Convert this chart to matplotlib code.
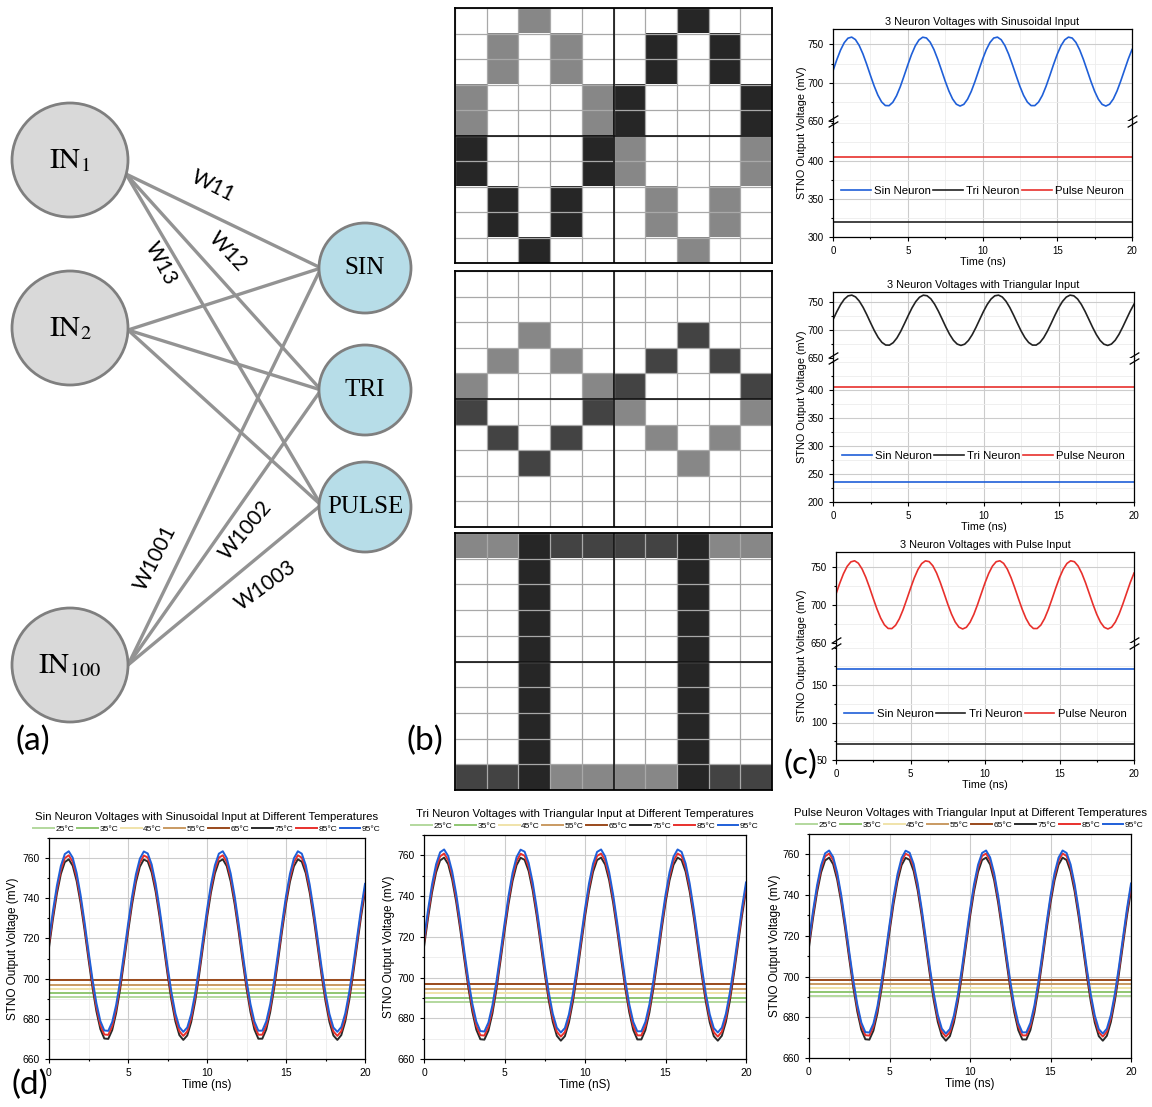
import numpy as np
import matplotlib.pyplot as plt
from matplotlib.colors import ListedColormap
from matplotlib.patches import Ellipse
from matplotlib.ticker import MultipleLocator

plt.rcParams['font.family'] = ['Liberation Sans', 'DejaVu Sans']
plt.rcParams['mathtext.fontset'] = 'stix'

W, H = 1152, 1107

# ---------------- data ----------------
t_ns = np.arange(0, 20.001, 0.25)

# oscillating neuron output (mV), sampled every 0.25 ns
wave_mv = [715.5, 729.7, 742.3, 752.1, 758.0, 759.4, 756.2, 748.6, 737.6, 724.2,
           709.7, 695.8, 683.8, 674.9, 670.2, 670.0, 674.4, 682.9, 694.7, 708.6,
           723.0, 736.6, 747.9, 755.7, 759.3, 758.3, 752.8, 743.3, 730.8, 716.7,
           702.3, 689.2, 678.7, 671.9, 669.5, 671.7, 678.4, 688.7, 701.7, 716.1,
           730.3, 742.8, 752.4, 758.2, 759.4, 756.0, 748.3, 737.1, 723.6, 709.2,
           695.3, 683.4, 674.7, 670.1, 670.1, 674.7, 683.3, 695.2, 709.1, 723.6,
           737.1, 748.2, 755.9, 759.4, 758.2, 752.5, 742.8, 730.3, 716.1, 701.8,
           688.8, 678.4, 671.7, 669.5, 671.9, 678.7, 689.2, 702.3, 716.6, 730.8,
           743.2]

# panel (c)
c_titles = ['3 Neuron Voltages with Sinusoidal Input',
            '3 Neuron Voltages with Triangular Input',
            '3 Neuron Voltages with Pulse Input']
neurons = ['Sin', 'Tri', 'Pulse']
neuron_colors = ['#1f5fd8', '#222222', '#e8302c']
c_wave = ['Sin', 'Tri', 'Pulse']
c_wave_shift = [0.0, 3.0, -1.0]
sin_level = [None, 236, 172]
tri_level = [320, None, 72]
pulse_level = [405, 406, None]
c_upper_lim = [(650, 770), (650, 768), (650, 770)]
c_lower_lim = [(300, 452), (200, 457), (50, 206)]
c_lower_ticks = [[300, 350, 400], [200, 250, 300, 350, 400], [50, 100, 150]]

# panel (d)
temps = ['25°C', '35°C', '45°C', '55°C', '65°C', '75°C', '85°C', '95°C']
temp_colors = ['#b3d89e', '#8fc672', '#f0e3aa', '#c99a62', '#9a4a1c',
               '#2a2a2a', '#e8302c', '#1f5fd8']
d1_flat = [690.8, 693.0, 695.0, 697.0, 699.2]
d2_flat = [688.0, 690.0, 692.5, 694.5, 697.0]
d3_flat = [690.5, 692.5, 694.5, 696.5, 698.5]
d1_shift = [0.0, 2.0, 4.0]
d2_shift = [-0.5, 1.5, 3.5]
d3_shift = [-1.0, 1.0, 2.5]
d_titles = ['Sin Neuron Voltages with Sinusoidal Input at Different Temperatures',
            'Tri Neuron Voltages with Triangular Input at Different Temperatures',
            'Pulse Neuron Voltages with Triangular Input at Different Temperatures']
d_xlabels = ['Time (ns)', 'Time (nS)', 'Time (ns)']

# panel (b) cell codes: 0 white, 1 grey, 2 black, 3 dark grey
grid_sin = [[0, 0, 1, 0, 0, 0, 0, 2, 0, 0],
            [0, 1, 0, 1, 0, 0, 2, 0, 2, 0],
            [0, 1, 0, 1, 0, 0, 2, 0, 2, 0],
            [1, 0, 0, 0, 1, 2, 0, 0, 0, 2],
            [1, 0, 0, 0, 1, 2, 0, 0, 0, 2],
            [2, 0, 0, 0, 2, 1, 0, 0, 0, 1],
            [2, 0, 0, 0, 2, 1, 0, 0, 0, 1],
            [0, 2, 0, 2, 0, 0, 1, 0, 1, 0],
            [0, 2, 0, 2, 0, 0, 1, 0, 1, 0],
            [0, 0, 2, 0, 0, 0, 0, 1, 0, 0]]
grid_tri = [[0, 0, 0, 0, 0, 0, 0, 0, 0, 0],
            [0, 0, 0, 0, 0, 0, 0, 0, 0, 0],
            [0, 0, 1, 0, 0, 0, 0, 3, 0, 0],
            [0, 1, 0, 1, 0, 0, 3, 0, 3, 0],
            [1, 0, 0, 0, 1, 3, 0, 0, 0, 3],
            [3, 0, 0, 0, 3, 1, 0, 0, 0, 1],
            [0, 3, 0, 3, 0, 0, 1, 0, 1, 0],
            [0, 0, 3, 0, 0, 0, 0, 1, 0, 0],
            [0, 0, 0, 0, 0, 0, 0, 0, 0, 0],
            [0, 0, 0, 0, 0, 0, 0, 0, 0, 0]]
grid_pulse = [[1, 1, 2, 3, 3, 3, 3, 2, 1, 1]] + \
             [[0, 0, 2, 0, 0, 0, 0, 2, 0, 0] for _ in range(8)] + \
             [[3, 3, 2, 1, 1, 1, 1, 2, 3, 3]]
cell_colors = ['#ffffff', '#878787', '#262626', '#434343']

fig = plt.figure(figsize=(W / 100, H / 100), dpi=100)


def px_axes(left, top, right, bottom):
    return fig.add_axes([left / W, 1 - bottom / H, (right - left) / W, (bottom - top) / H])


def style(ax, fs):
    ax.tick_params(which='both', direction='out', labelsize=fs, width=0.8)
    ax.tick_params(which='major', length=3)
    ax.tick_params(which='minor', length=1.5)
    ax.grid(which='major', color='#cccccc', lw=0.8)
    ax.grid(which='minor', color='#ededed', lw=0.6)
    ax.set_axisbelow(True)
    for s in ax.spines.values():
        s.set_linewidth(0.9)


# ---------------- panel (a): network ----------------
ax_a = px_axes(0, 0, 450, 800)
ax_a.set_xlim(0, 450)
ax_a.set_ylim(800, 0)
ax_a.axis('off')

in_nodes = [(70, 160), (70, 328), (70, 665)]
in_labels = [r'$\mathrm{IN}_{1}$', r'$\mathrm{IN}_{2}$', r'$\mathrm{IN}_{100}$']
out_nodes = [(365, 268), (365, 390), (365, 507)]
out_labels = ['SIN', 'TRI', 'PULSE']
edge_start = [(126, 174), (128, 330), (128, 665)]
edge_end = [(321, 268), (321, 390), (321, 505)]

for sx, sy in edge_start:
    for ex, ey in edge_end:
        ax_a.plot([sx, ex], [sy, ey], color='#939393', lw=2.4, zorder=1,
                  solid_capstyle='round')
for (x, y), lab in zip(in_nodes, in_labels):
    ax_a.add_patch(Ellipse((x, y), 116, 114, fc='#d9d9d9', ec='#7f7f7f', lw=2, zorder=2))
    ax_a.text(x, y, lab, fontsize=21, ha='center', va='center', zorder=3)
for (x, y), lab in zip(out_nodes, out_labels):
    ax_a.add_patch(Ellipse((x, y), 92, 90, fc='#b7dde8', ec='#7f7f7f', lw=2, zorder=2))
    ax_a.text(x, y, lab, fontsize=18, ha='center', va='center', zorder=3,
              family='Liberation Serif')

w_labels = ['W11', 'W12', 'W13', 'W1001', 'W1002', 'W1003']
w_pos = [(213, 186), (228, 252), (161, 263), (155, 558), (246, 530), (266, 586)]
w_rot = [-27, -47, -62, 63, 50, 36]
for lab, (x, y), r in zip(w_labels, w_pos, w_rot):
    ax_a.text(x, y, lab, fontsize=15, rotation=r, ha='center', va='center',
              family='Lato', rotation_mode='anchor')

# ---------------- panel (b): pixel grids ----------------
cmap = ListedColormap(cell_colors)
b_box = [(455, 8, 772, 263), (455, 271, 772, 527), (455, 533, 772, 790)]
for g, (l, t, r, b) in zip([grid_sin, grid_tri, grid_pulse], b_box):
    ax = px_axes(l, t, r, b)
    ax.imshow(np.array(g), cmap=cmap, vmin=-0.5, vmax=3.5, aspect='auto',
              interpolation='nearest')
    ax.set_xticks(np.arange(-0.5, 10, 1), minor=True)
    ax.set_yticks(np.arange(-0.5, 10, 1), minor=True)
    ax.set_xticks([])
    ax.set_yticks([])
    ax.grid(which='minor', color='#a8a8a8', lw=0.9)
    ax.tick_params(which='both', length=0)
    ax.axvline(4.5, color='#111111', lw=1.2)
    ax.axhline(4.5, color='#111111', lw=1.2)
    for s in ax.spines.values():
        s.set_linewidth(1.3)

# ---------------- panel (c): broken-axis voltage plots ----------------
c_box = [(833, 29, 1132, 121, 237), (833, 292, 1134, 358, 502), (836, 552, 1134, 643, 760)]
levels = [sin_level, tri_level, pulse_level]
c_legend_y = [0.40, 0.32, 0.39]
for i in range(3):
    l, t, r, brk, bot = c_box[i]
    axu = px_axes(l, t, r, brk)
    axl = px_axes(l, brk, r, bot)
    for ax in (axu, axl):
        for k, name in enumerate(neurons):
            if name == c_wave[i]:
                ax.plot(t_ns, np.array(wave_mv) + c_wave_shift[i],
                        color=neuron_colors[k], lw=1.2, label=name + ' Neuron')
            else:
                lv = levels[k][i]
                ax.plot(t_ns[[0, -1]], [lv, lv], color=neuron_colors[k], lw=1.2,
                        label=name + ' Neuron')
        ax.set_xlim(0, 20)
        ax.xaxis.set_major_locator(MultipleLocator(5))
        ax.xaxis.set_minor_locator(MultipleLocator(2.5))
        style(ax, 7)
    axu.set_ylim(*c_upper_lim[i])
    axu.set_yticks([650, 700, 750])
    axu.yaxis.set_minor_locator(MultipleLocator(25))
    axu.spines['bottom'].set_visible(False)
    axu.tick_params(which='both', bottom=False, labelbottom=False)
    axu.set_title(c_titles[i], fontsize=7.8, pad=3)
    axl.set_ylim(*c_lower_lim[i])
    axl.set_yticks(c_lower_ticks[i])
    axl.yaxis.set_minor_locator(MultipleLocator(25))
    axl.spines['top'].set_visible(False)
    axl.set_xlabel('Time (ns)', fontsize=7.8, labelpad=1)
    axl.legend(ncol=3, loc='center', bbox_to_anchor=(0.5, c_legend_y[i]), frameon=False,
               fontsize=8.2, handlelength=2.6, handletextpad=0.3, columnspacing=0.2,
               borderpad=0, borderaxespad=0)
    # break marks
    axu.plot([0, 1], [3 / (brk - t)] * 2, transform=axu.transAxes, ls='none',
             marker=[(-1, -0.6), (1, 0.6)], ms=7, mew=0.9, color='k', clip_on=False)
    axl.plot([0, 1], [1 - 3 / (bot - brk)] * 2, transform=axl.transAxes, ls='none',
             marker=[(-1, -0.6), (1, 0.6)], ms=7, mew=0.9, color='k', clip_on=False)
    fig.text(802 / W, 1 - (t + bot) / 2 / H, 'STNO Output Voltage (mV)', rotation=90,
             ha='center', va='center', fontsize=7.8)

# ---------------- panel (d): temperature sweeps ----------------
d_box = [(49, 838, 365, 1059), (424, 835, 746, 1059), (809, 834, 1131, 1058)]
d_ylab_x = [13, 389, 775]
for i, (flat, shift) in enumerate(zip([d1_flat, d2_flat, d3_flat],
                                      [d1_shift, d2_shift, d3_shift])):
    l, t, r, b = d_box[i]
    ax = px_axes(l, t, r, b)
    for k, temp in enumerate(temps):
        if k < 5:
            ax.plot(t_ns[[0, -1]], [flat[k], flat[k]], color=temp_colors[k], lw=1.4,
                    label=temp)
        else:
            ax.plot(t_ns, np.array(wave_mv) + shift[k - 5], color=temp_colors[k],
                    lw=1.4, label=temp)
    ax.set_xlim(0, 20)
    ax.set_ylim(660, 770)
    ax.xaxis.set_major_locator(MultipleLocator(5))
    ax.xaxis.set_minor_locator(MultipleLocator(2.5))
    ax.yaxis.set_major_locator(MultipleLocator(20))
    ax.yaxis.set_minor_locator(MultipleLocator(10))
    style(ax, 7.5)
    ax.set_title(d_titles[i], fontsize=8.2, pad=13)
    ax.set_xlabel(d_xlabels[i], fontsize=8.5, labelpad=1)
    ax.legend(ncol=8, loc='center', bbox_to_anchor=(0.5, 1 + 9 / (b - t)), frameon=False,
              fontsize=6, handlelength=2.5, handletextpad=0.2, columnspacing=0.3,
              borderpad=0, borderaxespad=0)
    fig.text(d_ylab_x[i] / W, 1 - (t + b) / 2 / H, 'STNO Output Voltage (mV)',
             rotation=90, ha='center', va='center', fontsize=8.5)

# panel letters
for lab, x, y in [('(a)', 33, 741), ('(b)', 425, 741), ('(c)', 800, 765), ('(d)', 30, 1085)]:
    fig.text(x / W, 1 - y / H, lab, fontsize=24, ha='center', va='center', family='Lato')

fig.savefig('out.png', dpi=100)
